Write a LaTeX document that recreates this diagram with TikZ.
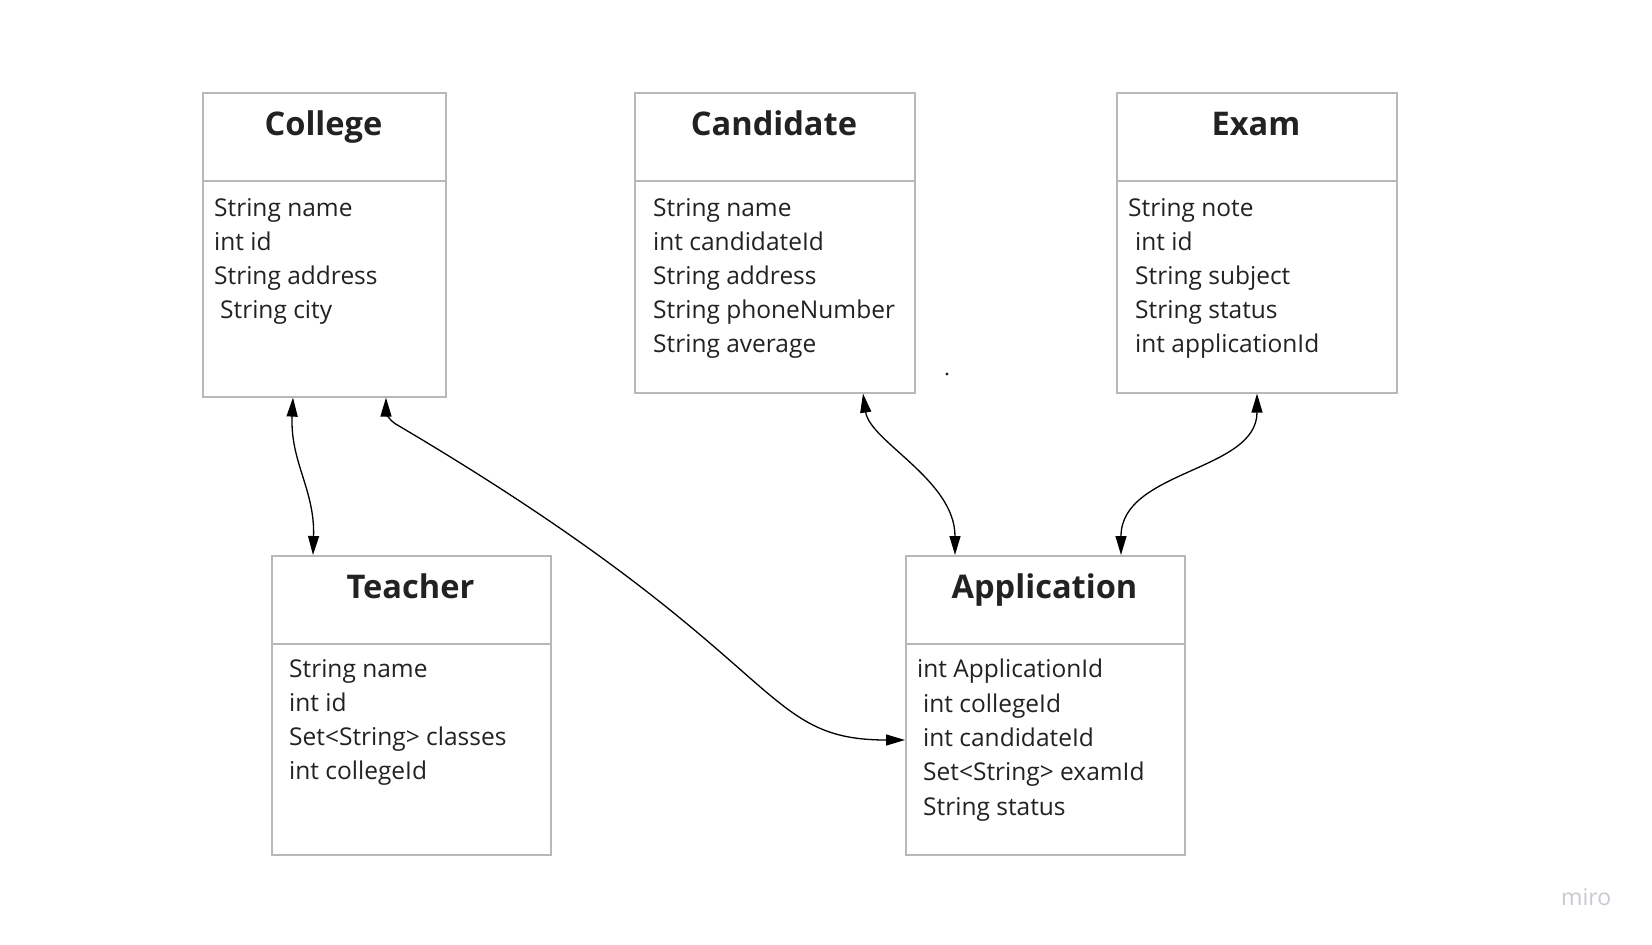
\documentclass[tikz,border=0pt]{standalone}
\usepackage{fontspec}
\setmainfont{Open Sans}
\usetikzlibrary{arrows.meta}
\definecolor{boxgray}{HTML}{B8B8B8}
\definecolor{txt}{HTML}{222222}
\definecolor{mirogray}{HTML}{C9C9D1}
\begin{document}
\begin{tikzpicture}[x=1pt,y=-1pt,
  box/.style={draw=boxgray, line width=1.6pt, fill=white, inner sep=0pt, anchor=north west, rectangle},
  title/.style={font=\fontsize{32.6}{38}\selectfont\bfseries, text=txt, anchor=base, inner sep=0pt},
  field/.style={font=\fontsize{24.5}{30}\selectfont, text=txt, anchor=base west, inner sep=0pt},
  divider/.style={draw=boxgray, line width=1.6pt},
  link/.style={line width=1.3pt, {Triangle[length=19pt,width=11pt]}-{Triangle[length=19pt,width=11pt]}}
]
\fill[white] (0,0) rectangle (1652,945);
\useasboundingbox (0,0) rectangle (1652,945);

% boxes
\node[box, minimum width=243pt, minimum height=304pt] (college) at (202,92) {};
\node[box, minimum width=280pt, minimum height=300pt] (candidate) at (634,92) {};
\node[box, minimum width=280pt, minimum height=300pt] (exam) at (1116,92) {};
\node[box, minimum width=279pt, minimum height=299pt] (teacher) at (271,555) {};
\node[box, minimum width=279pt, minimum height=299pt] (application) at (905,555) {};

% dividers
\draw[divider] ([shift={(0,89)}]college.north west) -- ([shift={(0,89)}]college.north east);
\draw[divider] ([shift={(0,89)}]candidate.north west) -- ([shift={(0,89)}]candidate.north east);
\draw[divider] ([shift={(0,89)}]exam.north west) -- ([shift={(0,89)}]exam.north east);
\draw[divider] ([shift={(0,89)}]teacher.north west) -- ([shift={(0,89)}]teacher.north east);
\draw[divider] ([shift={(0,89)}]application.north west) -- ([shift={(0,89)}]application.north east);

% titles
\node[title] (collegeT) at (323.5,135.5) {College};
\node[title] (candidateT) at (774,135.5) {Candidate};
\node[title] (examT) at (1256,135.5) {Exam};
\node[title] (teacherT) at (410.5,598.5) {Teacher};
\node[title] (applicationT) at (1044.5,598.5) {Application};

% College fields
\node[field] (col1) at (214,216) {String name};
\node[field] (col2) at (214,250) {int id};
\node[field] (col3) at (214,284) {String address};
\node[field] (col4) at (220,318) {String city};

% Candidate fields
\node[field] (can1) at (653,216) {String name};
\node[field] (can2) at (653,250) {int candidateId};
\node[field] (can3) at (653,284) {String address};
\node[field] (can4) at (653,318) {String phoneNumber};
\node[field] (can5) at (653,352) {String average};

% Exam fields
\node[field] (ex1) at (1128,216) {String note};
\node[field] (ex2) at (1135,250) {int id};
\node[field] (ex3) at (1135,284) {String subject};
\node[field] (ex4) at (1135,318) {String status};
\node[field] (ex5) at (1135,352) {int applicationId};

% Teacher fields
\node[field] (te1) at (289,677) {String name};
\node[field] (te2) at (289,711) {int id};
\node[field] (te3) at (289,745) {Set<String> classes};
\node[field] (te4) at (289,779) {int collegeId};

% Application fields
\node[field] (ap1) at (917,677) {int ApplicationId};
\node[field] (ap2) at (923,712) {int collegeId};
\node[field] (ap3) at (923,746) {int candidateId};
\node[field] (ap4) at (923,780) {Set<String> examId};
\node[field] (ap5) at (923,815) {String status};

% connectors
\draw[link] ([shift={(91,0)}]college.south west) .. controls +(-3,64) and +(2,-65) .. ([shift={(42,0)}]teacher.north west);
\draw[link] ([shift={(184,0)}]college.south west) .. controls +(0,14) and +(-6,-3.5) .. ([shift={(193,26)}]college.south west) .. controls +(397,234) and +(-150,0) .. ([shift={(0,185)}]application.north west);
\draw[link] ([shift={(229,0)}]candidate.south west) .. controls +(7,48) and +(0,-75) .. ([shift={(50,0)}]application.north west);
\draw[link] ([shift={(141,0)}]exam.south west) .. controls +(0,78) and +(0,-85) .. ([shift={(216,0)}]application.north west);

% stray dot
\fill[txt] (947,374) circle (1.6);

% watermark
\node[font=\fontsize{23}{27}\selectfont, text=mirogray, anchor=base west, inner sep=0pt] (miro) at (1561,905) {miro};
\end{tikzpicture}
\end{document}
